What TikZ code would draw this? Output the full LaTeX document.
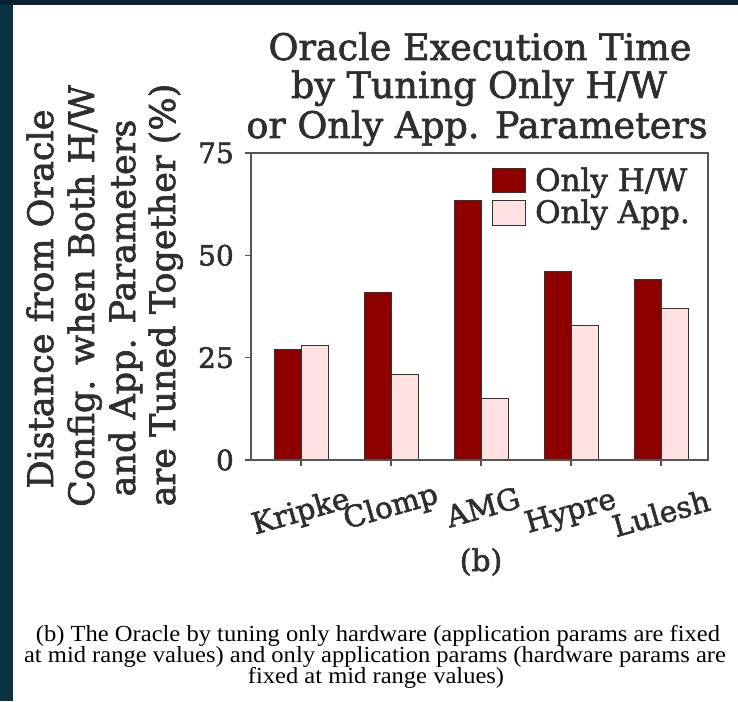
\documentclass[tikz,border=0pt]{standalone}
\usepackage{fontspec}
\setmainfont{Liberation Serif}
\newfontfamily\capfont{Liberation Serif}
\newfontfamily\plotfont[FakeBold=1.8]{DejaVu Serif}
\definecolor{navyL}{HTML}{0B3344}
\definecolor{navyT}{HTML}{0A2231}
\definecolor{hwred}{HTML}{8E0000}
\definecolor{apppink}{HTML}{FFE1E1}
\definecolor{axgray}{HTML}{555555}
\definecolor{txtgray}{HTML}{2E2E2E}
\tikzset{
  titletext/.style={font=\plotfont\fontsize{36.5}{39}\selectfont, text=txtgray, anchor=base, inner sep=0pt},
  ylabtext/.style={font=\plotfont\fontsize{35}{38}\selectfont, text=txtgray, anchor=base, rotate=90, inner sep=0pt},
  ticktext/.style={font=\plotfont\fontsize{28}{30}\selectfont, text=txtgray, anchor=east, inner sep=0pt},
  xticktext/.style={font=\plotfont\fontsize{29.5}{32}\selectfont, text=txtgray, rotate=16, anchor=center, inner sep=0pt},
  legtext/.style={font=\plotfont\fontsize{31}{32}\selectfont, text=txtgray, anchor=base west, inner sep=0pt},
  captext/.style={font=\capfont\fontsize{23}{21}\selectfont, text=black, anchor=base, inner sep=0pt},
  hwbar/.style={fill=hwred, draw=black!80, line width=0.8pt},
  appbar/.style={fill=apppink, draw=black!80, line width=0.8pt},
  axisline/.style={draw=axgray, line width=1.6pt},
}
\begin{document}
\begin{tikzpicture}[x=1pt,y=1pt]
\useasboundingbox (0,0) rectangle (738,701);
\fill[white] (0,0) rectangle (738,701);
\fill[navyL] (0,0) rectangle (13,701);
\fill[navyT] (0,696) rectangle (738,701);

% title
\node[titletext] (title1) at (480,641) {Oracle Execution Time};
\node[titletext] (title2) at (479,603) {by Tuning Only H/W};
\node[titletext] (title3) at (477,563) {or Only App. Parameters};

% y label
\node[ylabtext] (ylab1) at (53,402) {Distance from Oracle};
\node[ylabtext] (ylab2) at (94,405) {Config. when Both H/W};
\node[ylabtext] (ylab3) at (135,393) {and App. Parameters};
\node[ylabtext] (ylab4) at (175,406) {are Tuned Together (\%)};

% bars (scale: 4.0933 pt per unit, baseline y=241)
\def\uy{4.0933}
\foreach \cx/\hw/\app in {301/27/28, 391/41/21, 481/63.5/15, 571/46/33, 661/44/37}{
  \draw[hwbar] (\cx-27,241) rectangle (\cx,241+\hw*\uy);
  \draw[appbar] (\cx,241) rectangle (\cx+27,241+\app*\uy);
}

% axes box
\draw[axisline] (251,241) rectangle (708,548);
\foreach \v in {0,25,50,75}{
  \draw[axisline] (245,241+\v*\uy) -- (251,241+\v*\uy);
}
\foreach \cx in {301,391,481,571,661}{
  \draw[axisline] (\cx,241) -- (\cx,235);
}

% y tick labels
\node[ticktext] (t0) at (234,241) {0};
\node[ticktext] (t25) at (234,343.3) {25};
\node[ticktext] (t50) at (234,445.7) {50};
\node[ticktext] (t75) at (234,548) {75};

% x tick labels
\node[xticktext] (xk) at (301,188) {Kripke};
\node[xticktext] (xc) at (391,193) {Clomp};
\node[xticktext] (xa) at (483,194) {AMG};
\node[xticktext] (xh) at (571,188) {Hypre};
\node[xticktext] (xl) at (661,188) {Lulesh};

% legend
\draw[hwbar] (492,509) rectangle (525,533);
\node[legtext] (leg1) at (535,510) {Only H/W};
\draw[appbar] (492,476) rectangle (525,501);
\node[legtext] (leg2) at (535,478) {Only App.};

% subfigure label
\node[font=\plotfont\fontsize{30}{32}\selectfont, text=txtgray, inner sep=0pt] (sub) at (481,139) {(b)};

% caption
\node[captext] (cap1) at (378,60) {\scalebox{1.067}[1]{(b) The Oracle by tuning only hardware (application params are fixed}};
\node[captext] (cap2) at (375,39) {\scalebox{1.067}[1]{at mid range values) and only application params (hardware params are}};
\node[captext] (cap3) at (376,18) {\scalebox{1.067}[1]{fixed at mid range values)}};
\end{tikzpicture}
\end{document}
